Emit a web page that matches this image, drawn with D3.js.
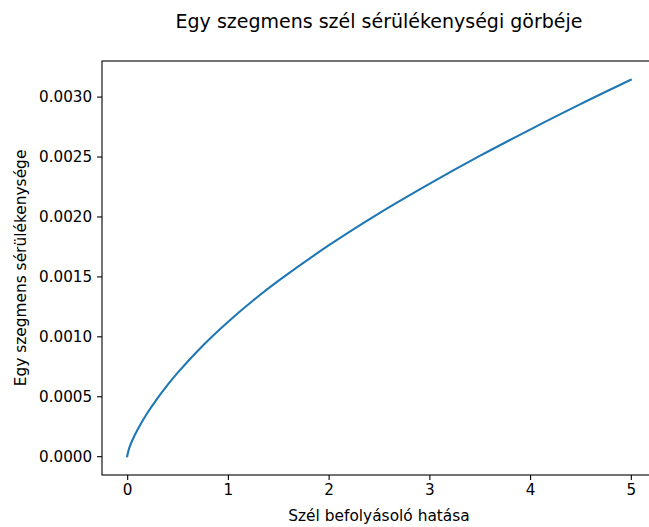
<!DOCTYPE html>
<html>
<head>
<meta charset="utf-8">
<script src="https://cdn.jsdelivr.net/npm/d3@7"></script>
<style>
  body { margin: 0; background: #fff; }
  svg { font-family: "DejaVu Sans", sans-serif; }
</style>
</head>
<body>
<div id="chart-area"></div>
<script>
// values
const windEffect = [0, 0.02, 0.05, 0.1, 0.2, 0.3, 0.4, 0.5, 0.75, 1, 1.25, 1.5, 2, 2.5, 3, 3.5, 4, 4.5, 5];
const fragility = [0, 0.0000674, 0.000131, 0.000217, 0.000360, 0.000483, 0.000593, 0.000695, 0.000922,
                   0.00112, 0.001299, 0.001462, 0.001758, 0.002026, 0.002272, 0.002505, 0.002725,
                   0.002937, 0.003140];
const xTicks = [0, 1, 2, 3, 4, 5];
const yTicks = [0, 0.0005, 0.001, 0.0015, 0.002, 0.0025, 0.003];

const titleText = "Egy szegmens szél sérülékenységi görbéje";
const xLabel = "Szél befolyásoló hatása";
const yLabel = "Egy szegmens sérülékenysége";

var margin = { top: 61, left: 102 };
var width = 554,
    height = 414;

var data = windEffect.map((x, i) => ({ x: x, y: fragility[i] }));

var svg = d3.select("#chart-area")
    .append("svg")
    .attr("width", 649)
    .attr("height", 527);

var g = svg.append("g")
    .attr("transform", "translate(" + margin.left + ", " + margin.top + ")");

// matplotlib style 5% margins
var x = d3.scaleLinear()
    .domain([-0.25, 5.25])
    .range([0, width]);

var yMax = d3.max(fragility);
var y = d3.scaleLinear()
    .domain([-yMax * 0.05, yMax * 1.05])
    .range([height, 0]);

// line
var line = d3.line()
    .x(d => x(d.x))
    .y(d => y(d.y))
    .curve(d3.curveCatmullRom.alpha(0.5));

g.append("path")
    .datum(data)
    .attr("d", line)
    .attr("fill", "none")
    .attr("stroke", "#1f77b4")
    .attr("stroke-width", 2.1)
    .attr("stroke-linecap", "square");

// axes
var xAxisCall = d3.axisBottom(x)
    .tickValues(xTicks)
    .tickFormat(d3.format("d"))
    .tickSize(4.9)
    .tickPadding(4.5);
var xAxis = g.append("g")
    .attr("transform", "translate(0, " + height + ")")
    .call(xAxisCall);

var yAxisCall = d3.axisLeft(y)
    .tickValues(yTicks)
    .tickFormat(d3.format(".4f"))
    .tickSize(4.9)
    .tickPadding(4.9);
var yAxis = g.append("g").call(yAxisCall);

[xAxis, yAxis].forEach(a => {
    a.select(".domain").remove();
    a.selectAll("line").attr("stroke", "#000").attr("stroke-width", 1.1);
    a.selectAll("text").attr("fill", "#000").style("font-size", "15.2px")
        .style("font-family", "DejaVu Sans, sans-serif");
});

// spines
g.append("rect")
    .attr("x", 0)
    .attr("y", 0)
    .attr("width", width)
    .attr("height", height)
    .attr("fill", "none")
    .attr("stroke", "#000")
    .attr("stroke-width", 1.1);

// title
svg.append("text")
    .attr("x", margin.left + width / 2)
    .attr("y", 28)
    .attr("text-anchor", "middle")
    .style("font-size", "19px")
    .text(titleText);

// x-label
svg.append("text")
    .attr("x", margin.left + width / 2)
    .attr("y", 521)
    .attr("text-anchor", "middle")
    .style("font-size", "15.4px")
    .text(xLabel);

// y-label
svg.append("text")
    .attr("transform", "translate(26, " + (margin.top + height / 2) + ") rotate(-90)")
    .attr("text-anchor", "middle")
    .style("font-size", "15.4px")
    .text(yLabel);
</script>
</body>
</html>
